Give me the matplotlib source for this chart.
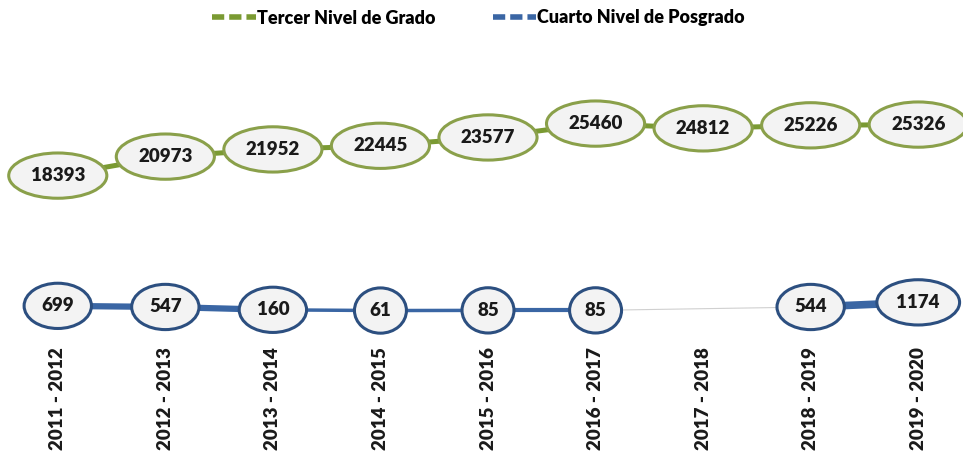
import numpy as np
import matplotlib
matplotlib.use("Agg")
import matplotlib.pyplot as plt
from matplotlib.lines import Line2D

periods = ["2011 - 2012", "2012 - 2013", "2013 - 2014", "2014 - 2015", "2015 - 2016",
           "2016 - 2017", "2017 - 2018", "2018 - 2019", "2019 - 2020"]
grado = [18393, 20973, 21952, 22445, 23577, 25460, 24812, 25226, 25326]
posgrado = [699, 547, 160, 61, 85, 85, np.nan, 544, 1174]

FONT = "Lato"
green_line = "#7a9a32"
green_edge = "#8aa04a"
blue_line = "#3a66a4"
blue_edge = "#2c4f80"

W, H = 963, 458
fig = plt.figure(figsize=(W / 100, H / 100), dpi=100)
left_px, right_px = 4, 972
top_px, bot_px = 60, 340
ax = fig.add_axes([left_px / W, 1 - bot_px / H, (right_px - left_px) / W, (bot_px - top_px) / H])

x = np.arange(len(periods))
ax.set_xlim(-0.5, len(periods) - 0.5)
ax.set_ylim(-3940, 34100)

ax.plot(x, grado, color=green_line, lw=3.6, solid_capstyle="butt", zorder=1)

seg_w = [4.5, 4.5, 2.5, 2.5, 3, 3, 3, 5.5]
pos = np.array(posgrado, dtype=float)
for i in range(len(x) - 1):
    if not np.isnan(pos[i]) and not np.isnan(pos[i + 1]):
        ax.plot(x[i:i + 2], pos[i:i + 2], color=blue_line, lw=seg_w[i], zorder=1,
                solid_capstyle="butt")
valid = np.where(~np.isnan(pos))[0]
for a, b in zip(valid[:-1], valid[1:]):
    if b - a > 1:
        ax.plot([x[a], x[b]], [pos[a], pos[b]], color="#d0d0d0", lw=0.8, zorder=0)

LBL = 13.5
for xi, v in zip(x, grado):
    ax.text(xi, v, f"{v}", ha="center", va="center", fontsize=LBL, fontweight="heavy",
            family=FONT, color="#1a1a1a", zorder=3,
            bbox=dict(boxstyle="ellipse,pad=0.4", fc="#f3f3f3", ec=green_edge, lw=2.2))
for xi, v in zip(x, pos):
    if np.isnan(v):
        continue
    ax.text(xi, v, f"{int(v)}", ha="center", va="center", fontsize=LBL, fontweight="heavy",
            family=FONT, color="#1a1a1a", zorder=3,
            bbox=dict(boxstyle="ellipse,pad=0.4", fc="#f3f3f3", ec=blue_edge, lw=2.2))

ax.set_xticks(x)
ax.set_xticklabels(periods, rotation=90, fontsize=13.5, fontweight="heavy", family=FONT,
                   color="#1a1a1a")
ax.tick_params(axis="x", length=0, pad=5)
ax.set_yticks([])
for s in ax.spines.values():
    s.set_visible(False)

h1 = Line2D([], [], color=green_line, lw=4, linestyle=(0, (2.2, 0.9)))
h2 = Line2D([], [], color=blue_line, lw=4, linestyle=(0, (2.2, 0.9)))
fig.legend([h1, h2], ["Tercer Nivel de Grado", "Cuarto Nivel de Posgrado"],
           loc="center", bbox_to_anchor=(0.497, 1 - 18 / H), ncol=2, frameon=False,
           prop=dict(family=FONT, weight="heavy", size=13), handlelength=2.4,
           handletextpad=0.05, columnspacing=3.2)

fig.savefig("out.png", dpi=100)
